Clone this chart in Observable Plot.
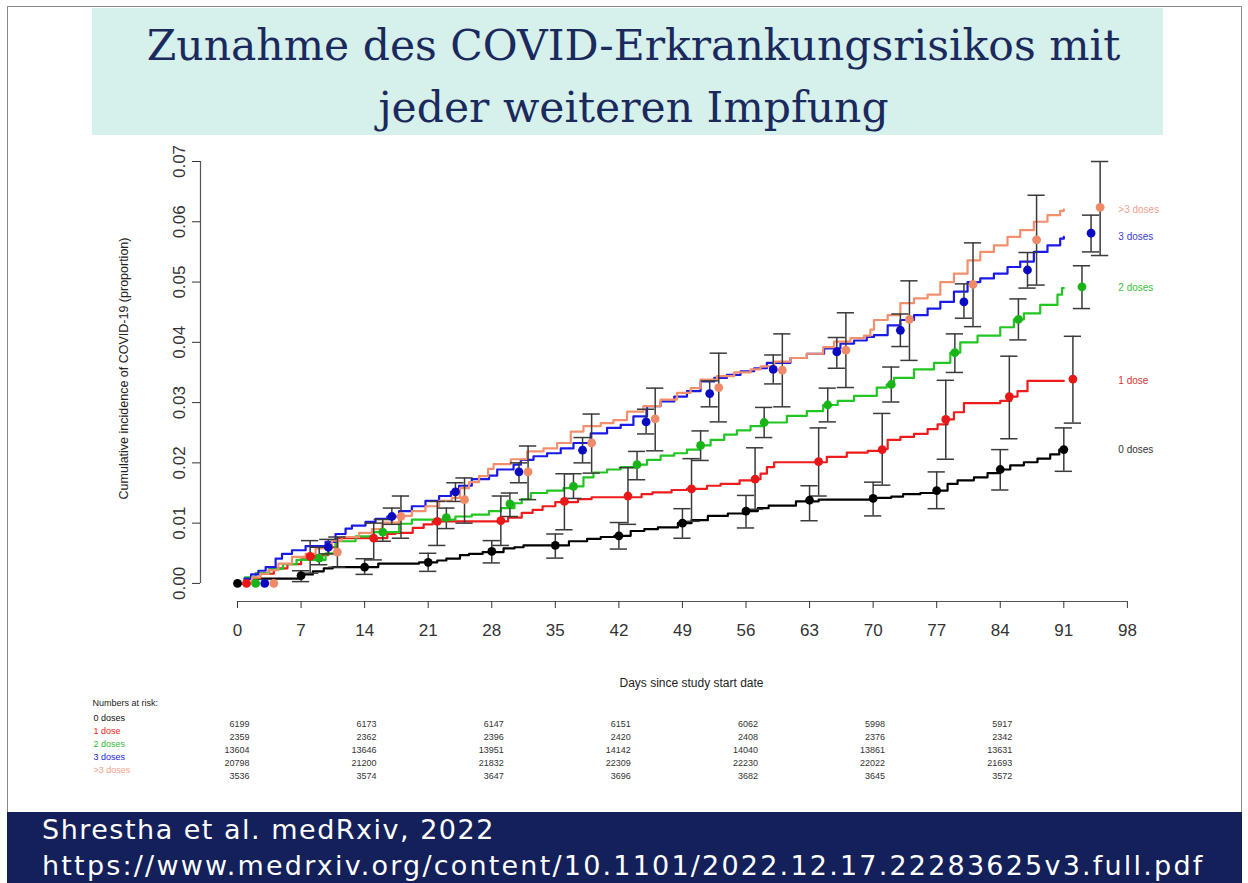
<!DOCTYPE html>
<html><head><meta charset="utf-8">
<script src="https://cdn.jsdelivr.net/npm/d3@7"></script>
<script src="https://cdn.jsdelivr.net/npm/@observablehq/plot@0.6"></script>
<style>
body{margin:0;background:#fff;}
#page{position:relative;width:1248px;height:883px;overflow:hidden;background:#fff;font-family:"Liberation Sans",Arial,sans-serif;}
#frame{position:absolute;left:7px;top:6px;width:1235px;height:900px;border:1px solid #8a8a8a;box-sizing:border-box;}
#title{position:absolute;left:92px;top:8px;width:1071px;height:127px;background:#d6f0ec;color:#1b2a5c;font-family:"DejaVu Serif",serif;font-size:42.5px;text-align:center;line-height:62px;padding:7px 0 0 12px;box-sizing:border-box;}
#main{position:absolute;left:0;top:140px;}
#risk{position:absolute;left:0;top:690px;}
#footer{position:absolute;left:7px;top:812px;width:1235px;height:71px;background:#14205a;color:#fff;font-family:"DejaVu Sans",sans-serif;font-size:27px;line-height:36px;padding:0 0 0 35px;box-sizing:border-box;white-space:nowrap;}
#footer .l1{letter-spacing:1.5px;}
#footer .l2{letter-spacing:2.2px;}
</style>
</head>
<body>
<div id="page">
  <div id="frame"></div>
  <div id="title">Zunahme des COVID-Erkrankungsrisikos mit<br>jeder weiteren Impfung</div>
  <div id="main"></div>
  <div id="risk"></div>
  <div id="footer"><span class="l1">Shrestha et al. medRxiv, 2022</span><br><span class="l2">https://www.medrxiv.org/content/10.1101/2022.12.17.22283625v3.full.pdf</span></div>
</div>
<script>
// ---------- data ----------
const groups = ["0 doses", "1 dose", "2 doses", "3 doses", ">3 doses"];
const xTicks = [0, 7, 14, 21, 28, 35, 42, 49, 56, 63, 70, 77, 84, 91, 98];
const yTicks = [0, 0.01, 0.02, 0.03, 0.04, 0.05, 0.06, 0.07];

// step curves: [day, cumulative incidence]
const curve0 = [[0,0],[1,0.0008],[6.8,0.0015],[8.3,0.002],[9.5,0.0025],[10.5,0.0027],[15.5,0.0033],[20,0.0035],[22,0.0038],[23,0.0041],[24.5,0.0047],[25.5,0.0049],[27,0.0052],[29.3,0.0058],[30.5,0.006],[31.5,0.0063],[36.5,0.007],[38.5,0.0074],[40,0.0077],[41.5,0.0079],[43.3,0.0087],[44.8,0.009],[46.3,0.0093],[48.5,0.01],[50,0.0105],[51.8,0.0112],[54,0.0116],[56,0.012],[57.3,0.0125],[58.5,0.0129],[61.5,0.0136],[64,0.0139],[70,0.0142],[72,0.0144],[73.3,0.0148],[75.2,0.015],[76.8,0.0154],[78.2,0.0165],[79.3,0.0171],[81.1,0.0176],[82.6,0.0183],[84,0.0189],[85.1,0.0196],[86.6,0.0201],[88.1,0.0207],[89.5,0.0214],[90.5,0.0222],[91,0.0222]];
const curve1 = [[0,0],[0.8,0.0009],[2.5,0.0016],[4,0.0025],[5.5,0.0032],[7,0.004],[8.5,0.0047],[10,0.006],[11,0.0075],[16.5,0.0082],[17.4,0.0084],[19.3,0.0092],[20.5,0.0098],[21.5,0.0103],[29.8,0.0109],[31.3,0.0117],[32.5,0.0122],[33.6,0.0128],[35,0.0135],[37.5,0.014],[39,0.0143],[44.5,0.0148],[45.7,0.0151],[47.8,0.0155],[49.5,0.0157],[51.7,0.0162],[53.2,0.0165],[55.3,0.0171],[57,0.0173],[57.6,0.0182],[58.3,0.0193],[59.1,0.0201],[64.9,0.021],[67.1,0.0217],[69.4,0.022],[70.8,0.0223],[71.6,0.0238],[73,0.0243],[74.5,0.0248],[76,0.0256],[77.1,0.0264],[78.2,0.0272],[78.9,0.0284],[80,0.0299],[84,0.0303],[85.2,0.031],[85.9,0.0319],[87,0.0336],[91,0.0336]];
const curve2 = [[0,0],[0.8,0.001],[2,0.0017],[3.5,0.0024],[5,0.0032],[6.5,0.0039],[9.7,0.005],[10.8,0.007],[13,0.0078],[15,0.0085],[17.8,0.0099],[19.2,0.0106],[24,0.0111],[25.8,0.0114],[27.7,0.012],[29,0.0125],[30.5,0.0133],[31.3,0.014],[32.3,0.015],[34.1,0.0154],[35.9,0.0158],[37,0.0161],[38.1,0.0176],[39.2,0.0184],[40.7,0.0189],[42.2,0.0193],[44,0.0197],[45.1,0.0205],[46.6,0.0212],[48.1,0.0216],[49.5,0.0222],[51,0.0229],[52.1,0.0238],[53.6,0.0247],[55,0.0254],[56.5,0.0261],[58,0.0267],[60.5,0.0278],[62.7,0.0286],[64.5,0.0296],[66.1,0.0303],[67.9,0.0311],[70.4,0.0325],[71.5,0.033],[72.3,0.0341],[74.5,0.0355],[76.7,0.0366],[78.5,0.0383],[79.6,0.04],[81.5,0.0411],[84,0.0425],[85.5,0.0438],[86.6,0.0448],[88.4,0.0462],[90.3,0.0479],[90.8,0.049],[91,0.049]];
const curve3 = [[0,0],[0.8,0.0008],[1.5,0.0015],[2.3,0.0021],[3.1,0.0027],[4.2,0.0041],[4.9,0.0049],[6,0.0055],[7.5,0.0062],[9.7,0.0069],[10.8,0.0082],[11.9,0.0091],[12.6,0.0096],[14.1,0.0102],[15.2,0.0107],[16.5,0.0111],[17.8,0.012],[19.2,0.0128],[20.7,0.0137],[22.2,0.0145],[23.5,0.0152],[24.4,0.0162],[25.8,0.0173],[27.7,0.0179],[28.6,0.0189],[30.4,0.0197],[31.2,0.0205],[32.6,0.0211],[34.1,0.0216],[35.6,0.0224],[37,0.0233],[38.9,0.0249],[40.7,0.0258],[42.2,0.0263],[43.6,0.0277],[45.1,0.0294],[46.6,0.0302],[48.1,0.031],[49.5,0.0319],[51,0.0335],[52.5,0.0341],[53.9,0.0346],[55.4,0.0352],[56.9,0.0357],[58.3,0.0366],[60.9,0.0374],[62.7,0.0381],[64.6,0.039],[66.4,0.0398],[67.9,0.0403],[69.3,0.0409],[70.1,0.0412],[71.6,0.0428],[73,0.0437],[74.5,0.0445],[76,0.0456],[77.4,0.0467],[78.9,0.0484],[80.4,0.05],[81.8,0.0506],[83.3,0.0514],[84.8,0.0525],[86.2,0.0534],[87.7,0.055],[89.2,0.0561],[90.6,0.0572],[91,0.0575]];
const curve4 = [[0,0],[1.6,0.001],[2.5,0.0016],[3.4,0.0022],[4.5,0.0033],[6,0.0044],[7.5,0.0049],[8.6,0.0058],[10.4,0.0071],[11.5,0.0077],[13.4,0.0084],[14.8,0.009],[15.9,0.0101],[17.8,0.0112],[19.2,0.012],[20.7,0.0128],[22.2,0.0137],[23.6,0.0142],[24.5,0.0158],[25.5,0.0168],[26.6,0.0178],[27.6,0.019],[28.2,0.0198],[30.1,0.0206],[31.9,0.0219],[33.7,0.0224],[35.2,0.0233],[36.7,0.0252],[38.1,0.0261],[40,0.0266],[41.4,0.0271],[42.9,0.0285],[44.7,0.0294],[46.6,0.0305],[48.4,0.0316],[49.9,0.0324],[51,0.0338],[52.8,0.0344],[54.7,0.035],[56.5,0.0355],[57.6,0.036],[59.1,0.0368],[60.9,0.0374],[62.7,0.0381],[64.5,0.0392],[65.7,0.0401],[67.5,0.0407],[69,0.0411],[69.7,0.0421],[70.1,0.0437],[71.6,0.0445],[73,0.0465],[74.5,0.0473],[76,0.0479],[77.4,0.05],[78.9,0.0514],[80.4,0.0536],[81.8,0.055],[83.3,0.0561],[84.8,0.0575],[86.2,0.0586],[87.7,0.06],[89.2,0.0611],[90.6,0.0618],[91,0.062]];

// point estimates with 95% intervals at weekly times (dodged by group)
const markerDays = [0, 7, 14, 21, 28, 35, 42, 49, 56, 63, 70, 77, 84, 91];
const dodge = [0, 1, 2, 3, 4];
const est0 = [0, 0.0013, 0.0027, 0.0035, 0.0053, 0.0063, 0.0079, 0.0100, 0.0120, 0.0138, 0.0141, 0.0154, 0.0189, 0.0222];
const lo0  = [0, 0.0003, 0.0015, 0.0020, 0.0034, 0.0042, 0.0057, 0.0075, 0.0092, 0.0104, 0.0112, 0.0124, 0.0155, 0.0186];
const hi0  = [0, 0.0021, 0.0041, 0.0050, 0.0071, 0.0082, 0.0101, 0.0124, 0.0146, 0.0162, 0.0168, 0.0185, 0.0222, 0.0258];
const est1 = [0, 0.0045, 0.0075, 0.0103, 0.0104, 0.0136, 0.0145, 0.0157, 0.0173, 0.0202, 0.0222, 0.0272, 0.0310, 0.0339];
const lo1  = [0, 0.0017, 0.0039, 0.0063, 0.0063, 0.0089, 0.0098, 0.0103, 0.0123, 0.0145, 0.0163, 0.0206, 0.0240, 0.0266];
const hi1  = [0, 0.0071, 0.0100, 0.0136, 0.0145, 0.0182, 0.0192, 0.0207, 0.0225, 0.0258, 0.0282, 0.0337, 0.0377, 0.0410];
const est2 = [0, 0.0042, 0.0085, 0.0109, 0.0132, 0.0161, 0.0197, 0.0229, 0.0267, 0.0296, 0.0330, 0.0383, 0.0438, 0.0492];
const lo2  = [0, 0.0031, 0.0070, 0.0091, 0.0111, 0.0141, 0.0172, 0.0204, 0.0242, 0.0268, 0.0301, 0.0350, 0.0404, 0.0456];
const hi2  = [0, 0.0060, 0.0106, 0.0125, 0.0150, 0.0182, 0.0219, 0.0253, 0.0292, 0.0324, 0.0359, 0.0414, 0.0472, 0.0527];
const est3 = [0, 0.0060, 0.0111, 0.0152, 0.0185, 0.0221, 0.0268, 0.0315, 0.0355, 0.0384, 0.0420, 0.0467, 0.0520, 0.0581];
const lo3  = [0, 0.0049, 0.0098, 0.0136, 0.0167, 0.0200, 0.0248, 0.0293, 0.0331, 0.0357, 0.0393, 0.0440, 0.0490, 0.0550];
const hi3  = [0, 0.0073, 0.0125, 0.0167, 0.0200, 0.0242, 0.0289, 0.0336, 0.0379, 0.0408, 0.0447, 0.0497, 0.0549, 0.0611];
const est4 = [0, 0.0052, 0.0111, 0.0139, 0.0185, 0.0233, 0.0273, 0.0325, 0.0354, 0.0387, 0.0438, 0.0496, 0.0570, 0.0624];
const lo4  = [0, 0.0027, 0.0075, 0.0100, 0.0139, 0.0183, 0.0220, 0.0268, 0.0293, 0.0325, 0.0370, 0.0426, 0.0495, 0.0544];
const hi4  = [0, 0.0077, 0.0145, 0.0175, 0.0228, 0.0281, 0.0324, 0.0382, 0.0414, 0.0449, 0.0502, 0.0565, 0.0644, 0.0700];

// numbers at risk
const riskDays = [0, 14, 28, 42, 56, 70, 84];
const risk0 = [6199, 6173, 6147, 6151, 6062, 5998, 5917];
const risk1 = [2359, 2362, 2396, 2420, 2408, 2376, 2342];
const risk2 = [13604, 13646, 13951, 14142, 14040, 13861, 13631];
const risk3 = [20798, 21200, 21832, 22309, 22230, 22022, 21693];
const risk4 = [3536, 3574, 3647, 3696, 3682, 3645, 3572];

const labelDay = 97;

// ---------- styling ----------
const lineColors  = ["#000000", "#ee1c1c", "#22c622", "#1a1ae6", "#f2906e"];
const dotColors   = ["#000000", "#e81818", "#18b418", "#0a0ac0", "#ef8a68"];
const labelColors = ["#333333", "#d83232", "#3cc03c", "#3c3cc8", "#f2a090"];

// ---------- build tables ----------
const curveSeries = [curve0, curve1, curve2, curve3, curve4];
const estS = [est0, est1, est2, est3, est4];
const loS = [lo0, lo1, lo2, lo3, lo4];
const hiS = [hi0, hi1, hi2, hi3, hi4];
const riskS = [risk0, risk1, risk2, risk3, risk4];

const curves = groups.flatMap((g, i) => curveSeries[i].map(([day, value]) => ({group: g, day, value})));
const markers = groups.flatMap((g, i) => markerDays.map((t, j) => ({group: g, idx: i, day: t + dodge[i], value: estS[i][j], lo: loS[i][j], hi: hiS[i][j]})));
const bars = markers.filter(d => d.hi > d.lo);
const endLabels = groups.map((g, i) => ({group: g, value: curveSeries[i][curveSeries[i].length - 1][1]}));
const riskRows = groups.flatMap((g, i) => riskDays.map((t, j) => ({group: g, day: t, n: riskS[i][j]})));

const xMin = -4.075, xMax = 104.07, yMin = -0.003;
const cap = 0.95;

const main = Plot.plot({
  width: 1248, height: 560,
  marginLeft: 200, marginRight: 66, marginTop: 21, marginBottom: 99,
  style: {fontFamily: "Liberation Sans, Arial, sans-serif", fontSize: "17px", background: "transparent", color: "#333"},
  x: {domain: [xMin, xMax]},
  y: {domain: [yMin, 0.07]},
  color: {domain: groups, range: lineColors},
  marks: [
    Plot.ruleY([yMin], {x1: xTicks[0], x2: xTicks[xTicks.length - 1], stroke: "#555", strokeWidth: 1.2}),
    Plot.ruleX([xMin], {y1: yTicks[0], y2: yTicks[yTicks.length - 1], stroke: "#555", strokeWidth: 1.2}),
    Plot.axisX({ticks: xTicks, tickSize: 7, tickPadding: 15, fontSize: 17, label: null, tickFormat: d => String(d)}),
    Plot.axisY({ticks: yTicks, tickSize: 8, tickFormat: () => "", label: null}),
    Plot.text(yTicks, {y: d => d, frameAnchor: "left", rotate: -90, dx: -16, textAnchor: "middle", lineAnchor: "bottom", text: d => d.toFixed(2), fontSize: 17}),
    Plot.line(curves, {x: "day", y: "value", z: "group", stroke: "group", curve: "step-after", strokeWidth: 2.2}),
    Plot.ruleX(bars, {x: "day", y1: "lo", y2: "hi", stroke: "#3a3a3a", strokeWidth: 1.5}),
    Plot.ruleY(bars, {y: "lo", x1: d => d.day - cap, x2: d => d.day + cap, stroke: "#3a3a3a", strokeWidth: 1.5}),
    Plot.ruleY(bars, {y: "hi", x1: d => d.day - cap, x2: d => d.day + cap, stroke: "#3a3a3a", strokeWidth: 1.5}),
    ...groups.map((g, i) => Plot.dot(markers.filter(d => d.idx === i), {x: "day", y: "value", fill: dotColors[i], r: 4.4})),
    ...groups.map((g, i) => Plot.text(endLabels.filter(d => d.group === g), {x: () => labelDay, y: "value", text: "group", fill: labelColors[i], textAnchor: "start", fontSize: 10})),
    Plot.text(["Cumulative incidence of COVID-19 (proportion)"], {frameAnchor: "left", rotate: -90, dx: -77, dy: -13, textAnchor: "middle", lineAnchor: "middle", fontSize: 12.5, fill: "#222"}),
    Plot.text(["Days since study start date"], {frameAnchor: "bottom", dy: 82, textAnchor: "middle", lineAnchor: "middle", fontSize: 12, fill: "#222"})
  ]
});
document.getElementById("main").appendChild(main);

const risk = Plot.plot({
  width: 1248, height: 95,
  marginLeft: 200, marginRight: 66, marginTop: 0, marginBottom: 0,
  style: {fontFamily: "Liberation Sans, Arial, sans-serif", fontSize: "9px", background: "transparent"},
  x: {domain: [xMin, xMax], axis: null},
  y: {type: "point", domain: groups, range: [33.3, 85.7], padding: 0, axis: null},
  color: {domain: groups, range: ["#111111", "#ee2222", "#33bb33", "#2222dd", "#f4a08a"]},
  marks: [
    Plot.text(["Numbers at risk:"], {frameAnchor: "top-left", dx: -108, dy: 13, textAnchor: "start", lineAnchor: "middle", fill: "#222"}),
    Plot.text(groups, {y: d => d, frameAnchor: "left", dx: -107, dy: -6.5, textAnchor: "start", lineAnchor: "middle", fill: d => d}),
    Plot.text(riskRows, {x: "day", y: "group", text: d => String(d.n), textAnchor: "end", lineAnchor: "middle", dx: 12, fill: "#333"})
  ]
});
document.getElementById("risk").appendChild(risk);
</script>
</body></html>
